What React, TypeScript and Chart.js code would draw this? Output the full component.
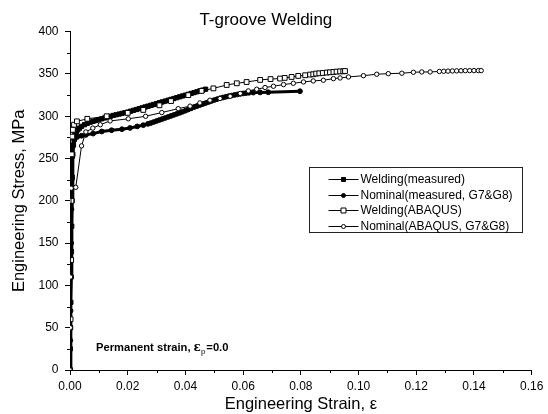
import React, { useEffect, useRef } from "react";
import { Chart, registerables } from "chart.js";

Chart.register(...registerables);

const FONT = "'Liberation Sans', Arial, Helvetica, sans-serif";

const seriesLabels = [
  "Welding(measured)",
  "Nominal(measured, G7&G8)",
  "Welding(ABAQUS)",
  "Nominal(ABAQUS, G7&G8)",
];

const weldMeasX = [0, 0.0001, 0.0002, 0.0003, 0.0004, 0.0005, 0.0006, 0.0007, 0.0008, 0.001, 0.0012, 0.0015, 0.0018, 0.0022, 0.0027, 0.0033, 0.004, 0.005, 0.006, 0.007, 0.008, 0.009, 0.01, 0.011, 0.012, 0.013, 0.014, 0.015, 0.016, 0.017, 0.018, 0.019, 0.02, 0.021, 0.022, 0.023, 0.024, 0.025, 0.026, 0.027, 0.028, 0.029, 0.03, 0.031, 0.032, 0.033, 0.034, 0.035, 0.036, 0.037, 0.038, 0.039, 0.04, 0.041, 0.042, 0.043, 0.044, 0.045, 0.046, 0.047];
const weldMeasY = [0, 25, 50, 80, 110, 140, 170, 200, 228, 255, 266, 273, 278, 281, 284, 286, 288, 290, 291.5, 293, 294, 295, 296, 297, 298, 299, 300, 301, 301.8, 302.6, 303.4, 304.2, 305, 306, 307, 308, 309, 310, 311, 312, 313, 314, 315, 316, 317, 318, 319, 320, 321, 322, 323, 324, 325, 326, 327, 328, 329, 330, 331, 332];

const nomMeasX = [0, 0.0001, 0.0002, 0.0003, 0.0004, 0.0005, 0.0006, 0.0008, 0.001, 0.0015, 0.0025, 0.004, 0.0055, 0.008, 0.011, 0.0144, 0.018, 0.0208, 0.0233, 0.0254, 0.027, 0.028, 0.029, 0.03, 0.031, 0.032, 0.033, 0.034, 0.035, 0.036, 0.037, 0.038, 0.039, 0.04, 0.041, 0.042, 0.043, 0.044, 0.045, 0.046, 0.047, 0.048, 0.049, 0.05, 0.051, 0.052, 0.053, 0.054, 0.055, 0.056, 0.057, 0.058, 0.059, 0.06, 0.061, 0.062, 0.0635, 0.0659, 0.0687, 0.0797];
const nomMeasY = [0, 35, 70, 110, 150, 190, 225, 252, 265, 272, 275.5, 277, 278, 279.5, 282, 283.5, 284.7, 286.2, 288, 289.5, 291, 292, 293.2, 294.4, 295.6, 296.8, 298, 299.2, 300.4, 301.6, 302.8, 304, 305.3, 306.6, 308, 309.4, 310.8, 312, 313.2, 314.4, 315.6, 316.8, 318, 319.2, 320.3, 321.3, 322.2, 323, 323.8, 324.5, 325.2, 325.8, 326.4, 327, 327.4, 327.8, 328, 328.2, 328.4, 329.6];

const weldAbqX = [0, 0.0002, 0.0004, 0.0005, 0.0006, 0.0008, 0.001, 0.0014, 0.0024, 0.006, 0.0127, 0.02, 0.0254, 0.031, 0.035, 0.041, 0.0456, 0.0497, 0.0543, 0.0578, 0.0612, 0.0659, 0.0695, 0.0728, 0.0744, 0.0768, 0.0791, 0.0815, 0.0832, 0.0843, 0.0853, 0.0864, 0.0876, 0.089, 0.0901, 0.0913, 0.0924, 0.0936, 0.0947, 0.0953];
const weldAbqY = [0, 60, 130, 200, 255, 276, 284, 290, 294, 297, 300, 304, 307.5, 313, 318, 325, 330, 333, 337, 339, 340.5, 343, 344, 344.6, 345.4, 346.5, 347.7, 348.5, 349.3, 349.7, 350.5, 350.8, 351.2, 351.7, 352, 352.4, 352.8, 353.1, 353.1, 353.5];

const nomAbqX = [0, 0.0001, 0.0002, 0.0004, 0.002, 0.004, 0.0055, 0.0079, 0.0105, 0.0139, 0.0202, 0.0262, 0.0318, 0.0375, 0.0416, 0.045, 0.0485, 0.052, 0.0555, 0.059, 0.0618, 0.0647, 0.0676, 0.0705, 0.074, 0.0774, 0.0809, 0.0843, 0.0878, 0.0913, 0.0936, 0.0965, 0.1017, 0.1063, 0.1103, 0.115, 0.119, 0.1219, 0.1248, 0.128, 0.1295, 0.131, 0.1325, 0.134, 0.1355, 0.137, 0.1385, 0.14, 0.1415, 0.1425];
const nomAbqY = [0, 50, 110, 215, 216, 265, 281.5, 286, 290, 294.5, 297, 300, 304.4, 309, 312, 315.8, 319, 321, 323.7, 327, 330, 332, 334, 335.5, 337.5, 339, 340.6, 341.8, 342.6, 344.5, 345.3, 346.5, 348, 349.7, 350.4, 350.9, 352, 352.4, 352.4, 353, 353.2, 353.4, 353.6, 353.7, 353.8, 353.9, 354, 354, 354, 354];

const xMin = 0, xMax = 0.16, xStep = 0.02;
const yMin = 0, yMax = 400, yStep = 50;

const toPts = (xs: number[], ys: number[]) => xs.map((x, i) => ({ x, y: ys[i] }));

const decorPlugin = {
  id: "decor",
  afterDraw(chart: any) {
    const { ctx, chartArea: a, scales } = chart;
    const xs = scales.x, ys = scales.y;
    ctx.save();
    ctx.strokeStyle = "#000";
    ctx.lineWidth = 1;
    for (let v = xMin + xStep / 2; v < xMax; v += xStep) {
      const px = Math.round(xs.getPixelForValue(v)) + 0.5;
      ctx.beginPath();
      ctx.moveTo(px, a.bottom);
      ctx.lineTo(px, a.bottom + 3);
      ctx.stroke();
    }
    for (let v = yMin + yStep / 2; v < yMax; v += yStep) {
      const py = Math.round(ys.getPixelForValue(v)) + 0.5;
      ctx.beginPath();
      ctx.moveTo(a.left - 3, py);
      ctx.lineTo(a.left, py);
      ctx.stroke();
    }

    // legend
    ctx.font = `12px ${FONT}`;
    const ds = chart.data.datasets;
    let maxW = 0;
    ds.forEach((d: any) => { maxW = Math.max(maxW, ctx.measureText(d.label).width); });
    const bl = Math.round(a.left + 239) + 0.5;
    const bt = Math.round(a.top + 135) + 0.5;
    const bw = Math.round(51 + maxW + 10);
    const bh = 65;
    ctx.strokeStyle = "#222";
    ctx.strokeRect(bl, bt, bw, bh);
    ctx.strokeStyle = "#000";
    ctx.textBaseline = "middle";
    ctx.textAlign = "left";
    ctx.fillStyle = "#000";
    ds.forEach((d: any, i: number) => {
      const ry = Math.round(bt + 11.5 + i * 15.5);
      ctx.beginPath();
      ctx.moveTo(bl + 19, ry + 0.5);
      ctx.lineTo(bl + 49, ry + 0.5);
      ctx.lineWidth = 1;
      ctx.stroke();
      const cx = bl + 34;
      const cy = ry + 0.5;
      ctx.fillStyle = d.pointBackgroundColor;
      ctx.beginPath();
      if (d.pointStyle === "rect") {
        const s = d.label.includes("ABAQUS") ? 2.5 : 2;
        ctx.rect(cx - s, cy - s, 2 * s, 2 * s);
      } else {
        ctx.arc(cx, cy, 2, 0, Math.PI * 2);
      }
      ctx.fill();
      ctx.stroke();
      ctx.fillStyle = "#000";
      ctx.fillText(d.label, bl + 51, ry + 1);
    });

    // annotation
    const ax = a.left + 26;
    const ay = a.bottom - 19;
    ctx.textBaseline = "alphabetic";
    ctx.font = `bold 11.2px ${FONT}`;
    const t1 = "Permanent strain, ";
    ctx.fillText(t1, ax, ay);
    let cxp = ax + ctx.measureText(t1).width;
    ctx.font = `bold 12px 'DejaVu Serif', serif`;
    ctx.fillText("\u03b5", cxp, ay);
    cxp += ctx.measureText("\u03b5").width;
    ctx.font = `8px ${FONT}`;
    ctx.fillText("p", cxp, ay + 3);
    cxp += ctx.measureText("p").width + 1;
    ctx.font = `bold 11.2px ${FONT}`;
    ctx.fillText("=0.0", cxp, ay);
    ctx.restore();
  },
};

export default function App() {
  const ref = useRef<HTMLCanvasElement | null>(null);
  useEffect(() => {
    document.body.style.margin = "0";
    const canvas = ref.current;
    if (!canvas) return;
    const chart = new Chart(canvas, {
      type: "scatter",
      data: {
        datasets: [
          {
            label: seriesLabels[0],
            data: toPts(weldMeasX, weldMeasY),
            showLine: true,
            borderColor: "#000",
            borderWidth: 3.5,
            pointStyle: "rect",
            pointRadius: 3,
            pointBackgroundColor: "#000",
            pointBorderColor: "#000",
            pointBorderWidth: 1,
            order: 2,
          },
          {
            label: seriesLabels[1],
            data: toPts(nomMeasX, nomMeasY),
            showLine: true,
            borderColor: "#000",
            borderWidth: 3,
            pointStyle: "circle",
            pointRadius: 2.4,
            pointBackgroundColor: "#000",
            pointBorderColor: "#000",
            pointBorderWidth: 1,
            order: 3,
          },
          {
            label: seriesLabels[2],
            data: toPts(weldAbqX, weldAbqY),
            showLine: true,
            borderColor: "#000",
            borderWidth: 1,
            pointStyle: "rect",
            pointRadius: 3.4,
            pointBackgroundColor: "#fff",
            pointBorderColor: "#000",
            pointBorderWidth: 1,
            order: 1,
          },
          {
            label: seriesLabels[3],
            data: toPts(nomAbqX, nomAbqY),
            showLine: true,
            borderColor: "#000",
            borderWidth: 1,
            pointStyle: "circle",
            pointRadius: 2.2,
            pointBackgroundColor: "#fff",
            pointBorderColor: "#000",
            pointBorderWidth: 1,
            order: 0,
          },
        ],
      },
      options: {
        responsive: false,
        animation: false,
        layout: { padding: { left: 0, right: 16.3, top: 0, bottom: 0 } },
        plugins: {
          legend: { display: false },
          tooltip: { enabled: false },
          title: {
            display: true,
            text: "T-groove Welding",
            color: "#000",
            font: { family: FONT, size: 17, weight: "normal" },
            padding: { top: 9.8, bottom: 1.5 },
          },
        },
        scales: {
          x: {
            type: "linear",
            min: xMin,
            max: xMax,
            afterFit: (s: any) => { s.height = 44; },
            border: { display: true, color: "#000", width: 1 },
            grid: { display: true, drawOnChartArea: false, drawTicks: true, tickLength: 5, color: "#000" },
            ticks: {
              stepSize: xStep,
              color: "#000",
              padding: 4,
              font: { family: FONT, size: 12 },
              callback: (v: any) => Number(v).toFixed(2),
            },
            title: {
              display: true,
              text: "Engineering Strain, \u03b5",
              color: "#000",
              font: { family: FONT, size: 16.5 },
              padding: { top: 0, bottom: 0 },
            },
          },
          y: {
            type: "linear",
            min: yMin,
            max: yMax,
            afterFit: (s: any) => { s.width = 70; },
            border: { display: true, color: "#000", width: 1 },
            grid: { display: true, drawOnChartArea: false, drawTicks: true, tickLength: 5, color: "#000" },
            ticks: {
              stepSize: yStep,
              color: "#000",
              padding: 6.5,
              font: { family: FONT, size: 12 },
            },
            title: {
              display: true,
              text: "Engineering Stress, MPa",
              color: "#000",
              font: { family: FONT, size: 16.5 },
              padding: { top: 9.4, bottom: 0 },
            },
          },
        },
      },
      plugins: [decorPlugin],
    });
    return () => chart.destroy();
  }, []);
  return (
    <div style={{ position: "fixed", left: 0, top: 0, width: 548, height: 414, background: "#fff" }}>
      <canvas ref={ref} width={548} height={414} style={{ display: "block" }} />
    </div>
  );
}
